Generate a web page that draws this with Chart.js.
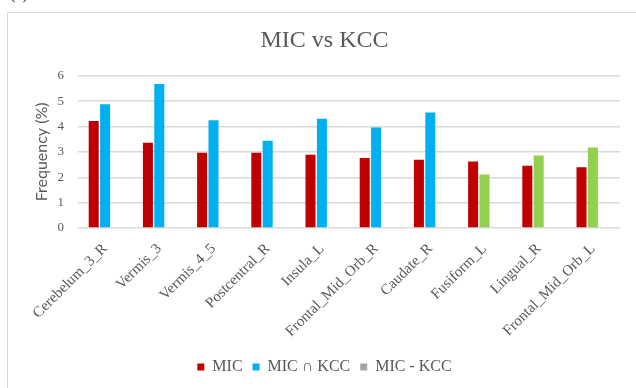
<!DOCTYPE html>
<html>
<head>
<meta charset="utf-8">
<script src="https://cdn.jsdelivr.net/npm/chart.js@4"></script>
<style>
  html, body { margin:0; padding:0; background:#fff; overflow:hidden; width:636px; height:388px; }
  #tag { position:absolute; left:10px; top:-14px; font:16px "Liberation Serif", serif; line-height:16px; color:#222; }
  #frame { position:absolute; left:7px; top:12px; width:640px; height:400px; border:1px solid #d9d9d9; }
  #wrap { position:absolute; left:8px; top:13px; width:634px; height:380px; }
</style>
</head>
<body>
<div id="tag">(a)</div>
<div id="frame"></div>
<div id="wrap"><canvas id="c"></canvas></div>
<script>
const categories = ['Cerebelum_3_R','Vermis_3','Vermis_4_5','Postcentral_R','Insula_L','Frontal_Mid_Orb_R','Caudate_R','Fusiform_L','Lingual_R','Frontal_Mid_Orb_L'];
const micValues = [4.22, 3.36, 2.97, 2.97, 2.89, 2.76, 2.69, 2.62, 2.45, 2.39];
const kccValues = [4.88, 5.68, 4.25, 3.44, 4.31, 3.96, 4.55, 2.11, 2.86, 3.17];
// which set each second-series value belongs to: intersection or difference
const kccSet = ['and','and','and','and','and','and','and','diff','diff','diff'];
const diffValues = [null, null, null, null, null, null, null, null, null, null];
const seriesNames = ['MIC', 'MIC \u2229 KCC', 'MIC - KCC'];
const yTicks = [0, 1, 2, 3, 4, 5, 6];

const RED = '#C00000', BLUE = '#00B0F0', GREEN = '#92D050', GRAY = '#A5A5A5';
const SERIF = '"Liberation Serif", "Times New Roman", serif';

new Chart(document.getElementById('c'), {
  type: 'bar',
  data: {
    labels: categories,
    datasets: [
      { label: seriesNames[0], data: micValues, backgroundColor: RED },
      { label: seriesNames[1], data: kccValues,
        backgroundColor: ctx => kccSet[ctx.dataIndex] === 'diff' ? GREEN : BLUE },
      { label: seriesNames[2], data: diffValues, backgroundColor: GRAY }
    ]
  },
  options: {
    responsive: true,
    maintainAspectRatio: false,
    animation: false,
    categoryPercentage: 0.63,
    barPercentage: 0.88,
    layout: { padding: { top: 0, right: 22, bottom: 8, left: 21 } },
    plugins: {
      title: { display: true, text: 'MIC vs KCC', color: '#595959',
        font: { family: SERIF, size: 24, weight: 'normal' }, padding: { top: 13, bottom: 21 } },
      legend: { position: 'bottom',
        labels: { boxWidth: 7, boxHeight: 7, color: '#595959', padding: 10,
          font: { family: SERIF, size: 16 } } },
      tooltip: { enabled: false }
    },
    scales: {
      x: {
        grid: { display: false },
        border: { display: false },
        ticks: { minRotation: 45, maxRotation: 45, autoSkip: false, color: '#595959', padding: 4,
          font: { family: SERIF, size: 15 } },
        afterFit: s => { s.height = 121; }
      },
      y: {
        min: yTicks[0], max: yTicks[yTicks.length - 1],
        afterBuildTicks: s => { s.ticks = yTicks.map(v => ({ value: v })); },
        grid: { color: '#d9d9d9', lineWidth: 1.5, drawTicks: false },
        border: { display: false },
        ticks: { color: '#595959', padding: 14, font: { family: SERIF, size: 13 } },
        title: { display: true, text: 'Frequency (%)', color: '#595959',
          font: { family: 'Lato', size: 16 }, padding: { top: 3.5, bottom: 0 } },
        afterFit: s => { s.width = 49; }
      }
    }
  }
});
</script>
</body>
</html>
